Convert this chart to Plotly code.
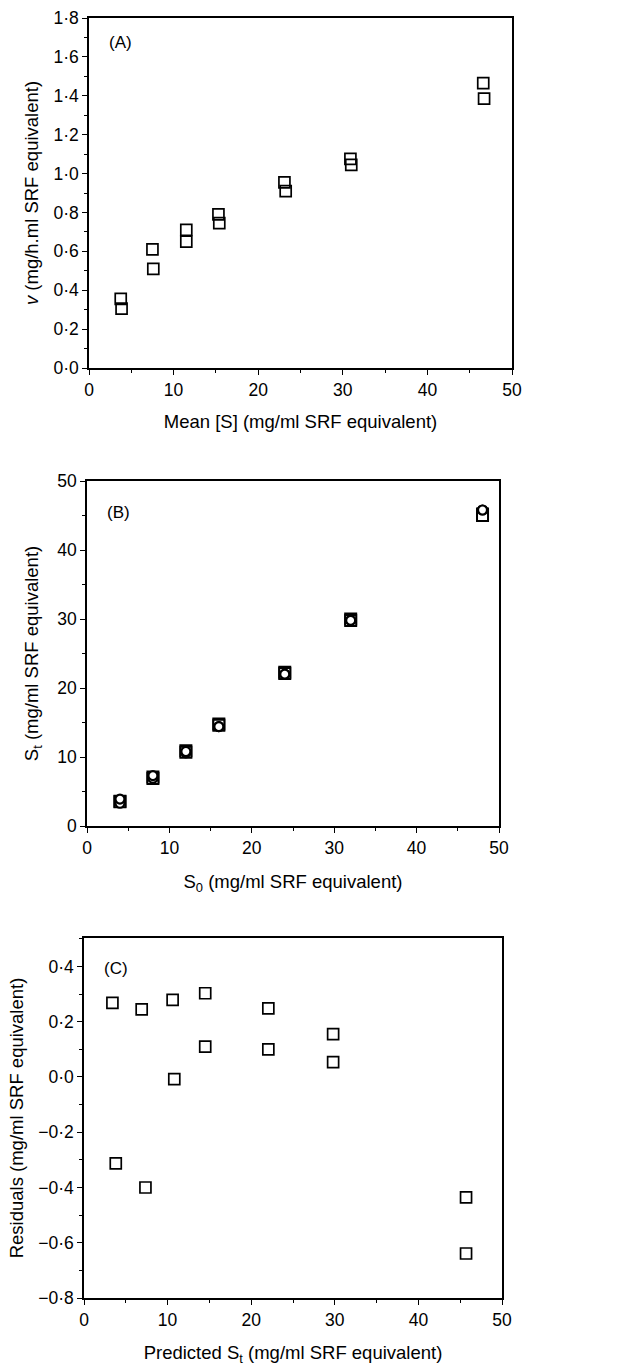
import plotly.graph_objects as go

# ---------------- data ----------------
# Panel A: initial velocity vs mean substrate
a_x = [3.75, 3.85, 7.5, 7.6, 11.5, 11.5, 15.3, 15.4, 23.1, 23.25, 30.9, 31.0, 46.6, 46.7]
a_y = [0.355, 0.305, 0.61, 0.51, 0.71, 0.65, 0.79, 0.745, 0.955, 0.91, 1.075, 1.045, 1.465, 1.385]

# Panel B: St vs S0 (squares observed, circles predicted)
b_x_obs = [4, 4, 8, 8, 12, 12, 16, 16, 24, 24, 32, 32, 48, 48]
b_y_obs = [3.6, 3.5, 7.1, 6.9, 10.9, 10.7, 14.8, 14.6, 22.3, 22.1, 30.0, 29.8, 45.2, 45.0]
b_x_pred = [4, 4, 8, 8, 12, 12, 16, 16, 24, 24, 32, 32, 48, 48]
b_y_pred = [3.3, 3.9, 6.9, 7.3, 10.6, 10.8, 14.4, 14.4, 22.0, 22.0, 29.8, 29.8, 45.8, 45.8]

# Panel C: residuals vs predicted St
c_x = [3.4, 3.8, 6.9, 7.35, 10.6, 10.8, 14.5, 14.5, 22.05, 22.05, 29.8, 29.8, 45.7, 45.7]
c_y = [0.268, -0.313, 0.245, -0.40, 0.279, -0.008, 0.303, 0.11, 0.248, 0.10, 0.155, 0.054, -0.436, -0.639]

x_ticks = [0, 10, 20, 30, 40, 50]
x_ticktext = ["0", "10", "20", "30", "40", "50"]
a_yticks = [0, 0.2, 0.4, 0.6, 0.8, 1.0, 1.2, 1.4, 1.6, 1.8]
a_yticktext = ["0·0", "0·2", "0·4", "0·6", "0·8", "1·0", "1·2", "1·4", "1·6", "1·8"]
b_yticks = [0, 10, 20, 30, 40, 50]
b_yticktext = ["0", "10", "20", "30", "40", "50"]
c_yticks = [-0.8, -0.6, -0.4, -0.2, 0.0, 0.2, 0.4]
c_yticktext = ["−0·8", "−0·6", "−0·4", "−0·2", "0·0", "0·2", "0·4"]

a_xtitle = "Mean [S] (mg/ml SRF equivalent)"
a_ytitle = "<i>v</i> (mg/h.ml SRF equivalent)"
b_xtitle = "S<sub>0</sub> (mg/ml SRF equivalent)"
b_ytitle = "S<sub>t</sub> (mg/ml SRF equivalent)"
c_xtitle = "Predicted S<sub>t</sub> (mg/ml SRF equivalent)"
c_ytitle = "Residuals (mg/ml SRF equivalent)"

# ---------------- layout helpers ----------------
W, H = 626, 1366
FONT = "Liberation Sans, Arial, Helvetica, sans-serif"
FS_TICK = 17.5
FS = 18.5

def xd(l, r):
    return [l / W, r / W]

def yd(b, t):
    return [1 - b / H, 1 - t / H]

sq = dict(symbol="square-open", size=11, color="black", line=dict(width=1.7, color="black"))
circ = dict(symbol="circle", size=9, color="white", line=dict(width=2.2, color="black"))

fig = go.Figure()
fig.add_trace(go.Scatter(x=a_x, y=a_y, mode="markers", marker=sq, xaxis="x", yaxis="y", showlegend=False))
fig.add_trace(go.Scatter(x=b_x_obs, y=b_y_obs, mode="markers",
                         marker=dict(symbol="square", size=11, color="white", line=dict(width=2, color="black")),
                         xaxis="x2", yaxis="y2", showlegend=False))
fig.add_trace(go.Scatter(x=b_x_pred, y=b_y_pred, mode="markers", marker=circ, xaxis="x2", yaxis="y2", showlegend=False))
fig.add_trace(go.Scatter(x=c_x, y=c_y, mode="markers", marker=sq, xaxis="x3", yaxis="y3", showlegend=False))

def axis(domain, anchor, rng, tv, tt, minor_dtick, title, standoff):
    return dict(domain=domain, anchor=anchor, range=rng, tickmode="array", tickvals=tv, ticktext=tt,
                showline=True, mirror=True, linecolor="black", linewidth=1.5,
                ticks="outside", ticklen=5, tickwidth=1.3, tickcolor="black",
                minor=dict(ticks="outside", ticklen=3, tickwidth=1, tickcolor="black",
                           tickmode="linear", dtick=minor_dtick, tick0=0),
                showgrid=False, zeroline=False, automargin=False,
                title=dict(text=title, standoff=standoff, font=dict(family=FONT, size=FS, color="black")),
                tickfont=dict(family=FONT, size=FS_TICK, color="black"))

fig.update_layout(
    width=W, height=H, margin=dict(l=0, r=0, t=0, b=0),
    paper_bgcolor="white", plot_bgcolor="white",
    font=dict(family=FONT, size=FS, color="black"),
    xaxis=axis(xd(89, 512), "y", [0, 50], x_ticks, x_ticktext, 5, a_xtitle, 16),
    yaxis=axis(yd(368, 18), "x", [0, 1.8], a_yticks, a_yticktext, 0.1, a_ytitle, 10),
    xaxis2=axis(xd(87, 499), "y2", [0, 50], x_ticks, x_ticktext, 5, b_xtitle, 18),
    yaxis2=axis(yd(826, 481), "x2", [0, 50], b_yticks, b_yticktext, 5, b_ytitle, 14),
    xaxis3=axis(xd(84, 502), "y3", [0, 50], x_ticks, x_ticktext, 5, c_xtitle, 20),
    yaxis3=axis(yd(1298, 938), "x3", [-0.8, 0.503], c_yticks, c_yticktext, 0.1, c_ytitle, 10),
)

def ann(text, x, y, size=17):
    fig.add_annotation(text=text, x=x / W, y=1 - y / H, xref="paper", yref="paper",
                       showarrow=False, xanchor="left", yanchor="middle",
                       font=dict(family=FONT, size=size, color="black"))

# panel labels
ann("(A)", 107, 43)
ann("(B)", 105, 512)
ann("(C)", 102, 968)

fig.write_html("out.html", config={"displayModeBar": False},
               post_script="document.body.style.margin='0';document.body.style.overflow='hidden';")
